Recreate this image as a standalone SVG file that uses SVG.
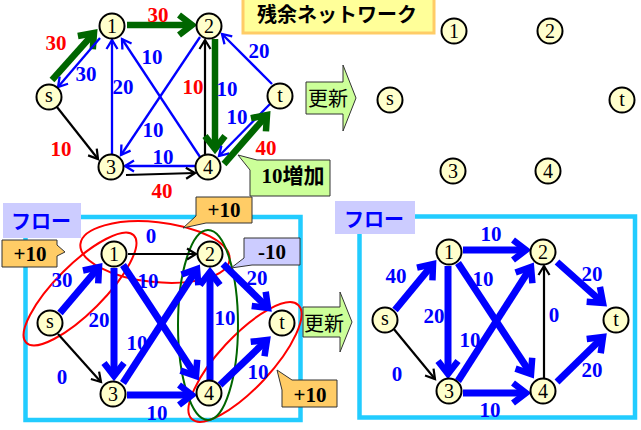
<svg xmlns="http://www.w3.org/2000/svg" width="641" height="430" viewBox="0 0 641 430">
<style>
.n{fill:#FFFFCC;stroke:#000;stroke-width:2}
.nt{font-family:"Liberation Serif",serif;font-size:20px;fill:#000;text-anchor:middle;dominant-baseline:central}
.lb{font-family:"Liberation Serif",serif;font-size:21px;font-weight:bold;text-anchor:middle;dominant-baseline:central}
.bl{fill:#0000FF}.rd{fill:#FF0000}
.tk{stroke:#0000FF;stroke-width:7;fill:none;marker-end:url(#hb)}
.gk{stroke:#006600;stroke-width:6.5;fill:none;marker-end:url(#hg)}
.tb{stroke:#0000FF;stroke-width:2.3;fill:none;marker-end:url(#sb)}
.tk0{stroke:#000;stroke-width:2.2;fill:none;marker-end:url(#sk)}
.frame{fill:none;stroke:#22CCFF;stroke-width:4.5}
.lav{fill:#CCCCFF}
.flo{font-family:"Noto Sans CJK JP",sans-serif;font-size:20px;font-weight:bold;fill:#0000FF;text-anchor:middle;dominant-baseline:central}
.co{fill:#FFCC66;stroke:#333;stroke-width:1}
.cl{fill:#CCCCFF;stroke:#333;stroke-width:1}
.ct{font-family:"Liberation Serif",serif;font-size:21px;font-weight:bold;fill:#000;text-anchor:middle;dominant-baseline:central}
.arr{fill:#CCFF99;stroke:#333;stroke-width:1}
.jp{font-family:"Noto Sans CJK JP",sans-serif;font-size:20px;fill:#000;text-anchor:middle;dominant-baseline:central}
.re{fill:none;stroke:#FF0000;stroke-width:2}
</style>
<defs>
<marker id="hb" markerUnits="userSpaceOnUse" viewBox="-20 -15 26 30" markerWidth="26" markerHeight="30" refX="0" refY="0" orient="auto" overflow="visible"><path d="M-13,-10 L0,0 L-13,10" fill="none" stroke="#0000FF" stroke-width="6.5"/></marker>
<marker id="hg" markerUnits="userSpaceOnUse" viewBox="-20 -15 26 30" markerWidth="26" markerHeight="30" refX="0" refY="0" orient="auto" overflow="visible"><path d="M-13,-10 L0,0 L-13,10" fill="none" stroke="#006600" stroke-width="6.5"/></marker>
<marker id="sb" markerUnits="userSpaceOnUse" viewBox="-12 -8 14 16" markerWidth="14" markerHeight="16" refX="0" refY="0" orient="auto" overflow="visible"><path d="M-9,-5.5 L0,0 L-9,5.5" fill="none" stroke="#0000FF" stroke-width="2.3"/></marker>
<marker id="sk" markerUnits="userSpaceOnUse" viewBox="-12 -8 14 16" markerWidth="14" markerHeight="16" refX="0" refY="0" orient="auto" overflow="visible"><path d="M-9,-5.5 L0,0 L-9,5.5" fill="none" stroke="#000" stroke-width="2.2"/></marker>
</defs>

<g id="title">
<rect x="243" y="-8" width="191" height="41" fill="#FFFF99" stroke="#FFCC66" stroke-width="3"/>
<text x="337" y="13" class="jp" style="font-weight:bold">残余ネットワーク</text>
</g>

<g id="frames">
<rect class="frame" x="25.5" y="217" width="275" height="203"/>
<rect class="frame" x="359.5" y="216.5" width="275.5" height="201"/>
</g>

<g id="highlights">
<ellipse class="re" cx="80" cy="289" rx="76" ry="24" transform="rotate(-45 80 289)"/>
<ellipse class="re" cx="155" cy="252" rx="75" ry="30" transform="rotate(6 155 252)"/>
<ellipse class="re" cx="245" cy="362" rx="78" ry="26" transform="rotate(-47 245 362)"/>
<ellipse cx="208" cy="325" rx="30" ry="95" fill="none" stroke="#006600" stroke-width="2"/>
</g>

<g id="connectors">
<line class="gk" x1="52" y1="80" x2="94" y2="33"/>
<line class="tb" x1="100" y1="38" x2="58" y2="87"/>
<line class="gk" x1="127" y1="25" x2="192" y2="25"/>
<line class="tb" x1="112" y1="154" x2="112" y2="40"/>
<line class="tb" x1="200" y1="157" x2="122" y2="39"/>
<line class="tb" x1="200" y1="37" x2="121" y2="155"/>
<line class="tk0" x1="205" y1="154" x2="205" y2="40"/>
<line class="gk" x1="215" y1="39" x2="215" y2="149"/>
<line class="tb" x1="272" y1="84" x2="222" y2="34"/>
<line class="tb" x1="270" y1="104" x2="219" y2="156"/>
<line class="gk" x1="224" y1="164" x2="267" y2="115"/>
<line class="tb" x1="195" y1="166" x2="125" y2="166"/>
<line class="tk0" x1="126" y1="175" x2="195" y2="173"/>
<line class="tk0" x1="53" y1="102" x2="98" y2="159"/>

<line class="tk" x1="60" y1="313" x2="99" y2="267"/>
<line class="tk0" x1="58" y1="334" x2="101" y2="382"/>
<line class="tk0" x1="128" y1="254" x2="196" y2="254"/>
<line class="tk" x1="114" y1="268" x2="114" y2="376"/>
<line class="tk" x1="123" y1="265" x2="196" y2="376"/>
<line class="tk" x1="123" y1="383" x2="197" y2="269"/>
<line class="tk" x1="210" y1="380" x2="210" y2="272"/>
<line class="tk" x1="223" y1="264" x2="268" y2="308"/>
<line class="tk" x1="127" y1="395" x2="192" y2="395"/>
<line class="tk" x1="220" y1="385" x2="267" y2="340"/>

<line class="tk" x1="395" y1="310" x2="433" y2="264"/>
<line class="tk0" x1="393" y1="328" x2="435" y2="379"/>
<line class="tk" x1="463" y1="250" x2="526" y2="250"/>
<line class="tk" x1="448" y1="266" x2="448" y2="374"/>
<line class="tk" x1="458" y1="263" x2="531" y2="374"/>
<line class="tk" x1="458" y1="381" x2="531" y2="267"/>
<line class="tk0" x1="544" y1="378" x2="544" y2="266"/>
<line class="tk" x1="557" y1="262" x2="603" y2="303"/>
<line class="tk" x1="463" y1="393" x2="526" y2="393"/>
<line class="tk" x1="557" y1="382" x2="603" y2="337"/>
</g>

<g id="edge-labels">
<text class="lb rd" x="56" y="43">30</text>
<text class="lb bl" x="86" y="74">30</text>
<text class="lb rd" x="158" y="15">30</text>
<text class="lb bl" x="123" y="87">20</text>
<text class="lb bl" x="152" y="57">10</text>
<text class="lb bl" x="153" y="130">10</text>
<text class="lb rd" x="193" y="87">10</text>
<text class="lb bl" x="227" y="89">10</text>
<text class="lb bl" x="259" y="51">20</text>
<text class="lb bl" x="237" y="117">10</text>
<text class="lb rd" x="266" y="148">40</text>
<text class="lb bl" x="163" y="157">10</text>
<text class="lb rd" x="162" y="191">40</text>
<text class="lb rd" x="61" y="149">10</text>

<text class="lb bl" x="151" y="236">0</text>
<text class="lb bl" x="62" y="280">30</text>
<text class="lb bl" x="148" y="281">10</text>
<text class="lb bl" x="99" y="320">20</text>
<text class="lb bl" x="137" y="343">10</text>
<text class="lb bl" x="225" y="318">10</text>
<text class="lb bl" x="257" y="278">20</text>
<text class="lb bl" x="258" y="372">10</text>
<text class="lb bl" x="62" y="377">0</text>
<text class="lb bl" x="157" y="413">10</text>

<text class="lb bl" x="491" y="234">10</text>
<text class="lb bl" x="396" y="276">40</text>
<text class="lb bl" x="483" y="279">10</text>
<text class="lb bl" x="434" y="316">20</text>
<text class="lb bl" x="470" y="340">10</text>
<text class="lb bl" x="554" y="315">0</text>
<text class="lb bl" x="592" y="274">20</text>
<text class="lb bl" x="592" y="370">20</text>
<text class="lb bl" x="397" y="374">0</text>
<text class="lb bl" x="490" y="410">10</text>
</g>

<g id="r-s"><circle class="n" cx="49" cy="97" r="12.5"/><text class="nt" x="49" y="95">s</text></g>
<g id="r-1"><circle class="n" cx="112" cy="26" r="12.5"/><text class="nt" x="112" y="26">1</text></g>
<g id="r-2"><circle class="n" cx="209" cy="26" r="12.5"/><text class="nt" x="209" y="26">2</text></g>
<g id="r-t"><circle class="n" cx="280" cy="96" r="12.5"/><text class="nt" x="280" y="95">t</text></g>
<g id="r-3"><circle class="n" cx="111" cy="167" r="12.5"/><text class="nt" x="111" y="167">3</text></g>
<g id="r-4"><circle class="n" cx="208" cy="167" r="12.5"/><text class="nt" x="208" y="167">4</text></g>

<g id="n-s"><circle class="n" cx="390" cy="100" r="12.5"/><text class="nt" x="390" y="98">s</text></g>
<g id="n-1"><circle class="n" cx="454" cy="31" r="12.5"/><text class="nt" x="454" y="31">1</text></g>
<g id="n-2"><circle class="n" cx="550" cy="31" r="12.5"/><text class="nt" x="550" y="31">2</text></g>
<g id="n-t"><circle class="n" cx="622" cy="100" r="12.5"/><text class="nt" x="622" y="99">t</text></g>
<g id="n-3"><circle class="n" cx="453" cy="171" r="12.5"/><text class="nt" x="453" y="171">3</text></g>
<g id="n-4"><circle class="n" cx="548" cy="171" r="12.5"/><text class="nt" x="548" y="171">4</text></g>

<g id="f-s"><circle class="n" cx="50" cy="323" r="12.5"/><text class="nt" x="50" y="321">s</text></g>
<g id="f-1"><circle class="n" cx="114" cy="254" r="12.5"/><text class="nt" x="114" y="254">1</text></g>
<g id="f-2"><circle class="n" cx="210" cy="254" r="12.5"/><text class="nt" x="210" y="254">2</text></g>
<g id="f-t"><circle class="n" cx="282" cy="323" r="12.5"/><text class="nt" x="282" y="322">t</text></g>
<g id="f-3"><circle class="n" cx="113" cy="394" r="12.5"/><text class="nt" x="113" y="394">3</text></g>
<g id="f-4"><circle class="n" cx="209" cy="393" r="12.5"/><text class="nt" x="209" y="393">4</text></g>

<g id="g-s"><circle class="n" cx="385" cy="320" r="12.5"/><text class="nt" x="385" y="318">s</text></g>
<g id="g-1"><circle class="n" cx="449" cy="252" r="12.5"/><text class="nt" x="449" y="252">1</text></g>
<g id="g-2"><circle class="n" cx="543" cy="252" r="12.5"/><text class="nt" x="543" y="252">2</text></g>
<g id="g-t"><circle class="n" cx="616" cy="320" r="12.5"/><text class="nt" x="616" y="319">t</text></g>
<g id="g-3"><circle class="n" cx="449" cy="391" r="12.5"/><text class="nt" x="449" y="391">3</text></g>
<g id="g-4"><circle class="n" cx="543" cy="391" r="12.5"/><text class="nt" x="543" y="391">4</text></g>

<g id="update1">
<path class="arr" d="M306,82 L343,82 L343,65 L356,98 L343,131 L343,114 L306,114 Z"/>
<text class="jp" x="328" y="97">更新</text>
</g>
<g id="update2">
<path class="arr" d="M303,307 L340,307 L340,292 L352,322 L340,352 L340,337 L303,337 Z"/>
<text class="jp" x="324" y="322">更新</text>
</g>

<g id="c-inc">
<path d="M257,160 L330,160 L330,196 L250,196 L250,170 L238,155 Z" fill="#CCFF99" stroke="#333" stroke-width="1"/>
<text x="293" y="176" class="ct" style="font-family:'Liberation Serif','Noto Sans CJK JP',serif">10増加</text>
</g>
<g id="flow-label-1">
<rect class="lav" x="3" y="203" width="78" height="35"/>
<text class="flo" x="41" y="220">フロー</text>
</g>
<g id="flow-label-2">
<rect class="lav" x="335" y="201" width="80" height="33"/>
<text class="flo" x="374" y="218">フロー</text>
</g>
<g id="c-left">
<path class="co" d="M2,240 L57,240 L57,245 L65,252 L57,256 L57,267 L2,267 Z"/>
<text class="ct" x="30" y="254">+10</text>
</g>
<g id="c-top">
<path class="co" d="M196,197 L252,197 L252,223 L206,223 L183,228 L196,216 Z"/>
<text class="ct" x="224" y="210">+10</text>
</g>
<g id="c-minus">
<path class="cl" d="M244,238 L300,238 L300,265 L252,265 L231,268 L244,258 Z"/>
<text class="ct" x="272" y="252">-10</text>
</g>
<g id="c-bottom">
<path class="co" d="M292,380 L337,380 L337,407 L282,407 L282,390 L277,370 Z"/>
<text class="ct" x="310" y="395">+10</text>
</g>
</svg>
